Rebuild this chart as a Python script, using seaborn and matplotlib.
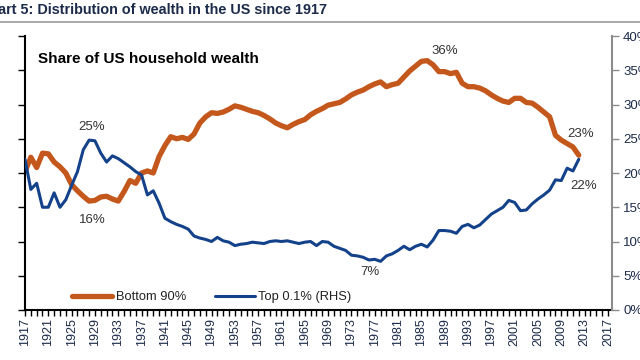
import matplotlib
matplotlib.use("Agg")
import matplotlib.pyplot as plt
from matplotlib.lines import Line2D
from matplotlib.ticker import FixedLocator, MultipleLocator, PercentFormatter
import pandas as pd
import seaborn as sns

# share of US household wealth (1917-2012)
years = list(range(1917, 2013))

bottom_90 = [
    20.2, 22.3, 20.8, 22.9, 22.8, 21.6, 20.9, 20.0, 18.3, 17.4,
    16.6, 15.9, 16.0, 16.5, 16.6, 16.2, 15.9, 17.3, 18.9, 18.5,
    20.0, 20.3, 20.0, 22.4, 24.0, 25.3, 25.0, 25.2, 24.9, 25.7,
    27.3, 28.2, 28.8, 28.7, 28.9, 29.3, 29.8, 29.6, 29.3, 29.0,
    28.8, 28.4, 27.9, 27.3, 26.9, 26.6, 27.1, 27.5, 27.8, 28.5,
    29.0, 29.4, 29.9, 30.1, 30.3, 30.8, 31.4, 31.8, 32.1, 32.6,
    33.0, 33.3, 32.6, 32.9, 33.1, 34.0, 34.9, 35.6, 36.3, 36.4,
    35.8, 34.8, 34.8, 34.5, 34.7, 33.1, 32.6, 32.6, 32.4, 32.0,
    31.4, 30.9, 30.5, 30.3, 30.9, 30.9, 30.3, 30.2, 29.6, 28.9,
    28.2, 25.5, 24.8, 24.3, 23.8, 22.6,
]

top_01 = [
    22.0, 17.6, 18.5, 15.0, 15.0, 17.1, 15.0, 16.1, 18.2, 20.2,
    23.4, 24.8, 24.7, 22.9, 21.6, 22.5, 22.1, 21.5, 20.9, 20.2,
    19.7, 16.8, 17.4, 15.6, 13.4, 12.9, 12.5, 12.2, 11.8, 10.8,
    10.5, 10.3, 10.0, 10.6, 10.1, 9.9, 9.4, 9.6, 9.7, 9.9,
    9.8, 9.7, 10.0, 10.1, 10.0, 10.1, 9.9, 9.7, 9.9, 10.0,
    9.4, 10.0, 9.9, 9.3, 9.0, 8.7, 8.0, 7.9, 7.7, 7.3,
    7.4, 7.1, 7.9, 8.2, 8.7, 9.3, 8.8, 9.3, 9.6, 9.2,
    10.2, 11.6, 11.6, 11.5, 11.2, 12.2, 12.5, 12.0, 12.4, 13.2,
    14.0, 14.5, 15.0, 16.0, 15.7, 14.5, 14.6, 15.5, 16.2, 16.8,
    17.5, 19.0, 18.9, 20.7, 20.3, 22.0,
]

year_ticks = list(range(1917, 2018, 4))
pct_ticks = [0, 5, 10, 15, 20, 25, 30, 35, 40]

# (label, year, value) for the point labels
callouts = [
    ("25%", 1928.5, 26.7),
    ("16%", 1928.5, 13.1),
    ("36%", 1989.0, 37.8),
    ("23%", 2012.3, 25.7),
    ("22%", 2012.9, 18.1),
    ("7%", 1976.2, 5.5),
]

ORANGE = "#C4571B"
BLUE = "#14428A"
NAVY = "#1C2B4A"

df = pd.DataFrame({"year": years, "bottom_90": bottom_90, "top_01": top_01})

sns.set_style("white")
plt.rcParams["font.family"] = ["Liberation Sans", "DejaVu Sans"]

fig = plt.figure(figsize=(6.4, 3.6), dpi=100)
ax = fig.add_axes([25 / 640, 1 - 310 / 360, 587 / 640, 274 / 360])
ax2 = ax.twinx()

sns.lineplot(data=df, x="year", y="bottom_90", ax=ax, color=ORANGE,
             linewidth=3.8, legend=False)
sns.lineplot(data=df, x="year", y="top_01", ax=ax2, color=BLUE,
             linewidth=2.2, legend=False)

for a in (ax, ax2):
    a.set_xlim(1917, 2017.7)
    a.set_ylim(0, 40)
    a.set_xlabel("")
    a.set_ylabel("")
    a.yaxis.set_major_locator(FixedLocator(pct_ticks))
    a.yaxis.set_major_formatter(PercentFormatter(decimals=0))
    a.spines["top"].set_visible(False)

ax.spines["right"].set_visible(False)
ax2.spines["left"].set_visible(False)
ax2.spines["bottom"].set_visible(False)
ax2.spines["right"].set_color("#8C8C8C")
ax2.spines["right"].set_linewidth(1.5)
for side in ("left", "bottom"):
    ax.spines[side].set_color("black")
    ax.spines[side].set_linewidth(1.5)

ax.xaxis.set_major_locator(FixedLocator(year_ticks))
ax.xaxis.set_minor_locator(MultipleLocator(1))
ax.tick_params(axis="x", which="both", direction="out", length=4, width=1,
               color="black", bottom=True, labelsize=9, labelcolor=NAVY,
               labelrotation=90, pad=2)
ax.tick_params(axis="y", direction="out", length=5, width=1, color="black",
               left=True, labelsize=9.5, labelcolor=NAVY, pad=15)
ax2.tick_params(axis="y", direction="out", length=5, width=1,
                color="#8C8C8C", right=True, labelsize=9.5,
                labelcolor=NAVY, pad=3)

for text, x, y in callouts:
    ax.text(x, y, text, ha="center", va="center", fontsize=9.5, color="#333333")

ax.text(0.022, 0.915, "Share of US household wealth", transform=ax.transAxes,
        fontsize=11, fontweight="bold", color="black", ha="left",
        va="center")

handles = [
    Line2D([], [], color=ORANGE, linewidth=3.8),
    Line2D([], [], color=BLUE, linewidth=2.2),
]
ax2.legend(handles, ["Bottom 90%", "Top 0.1% (RHS)"], loc="center left",
           bbox_to_anchor=(0.08, 0.047), ncol=2, frameon=False,
           fontsize=9.3, handlelength=3.1, handletextpad=0.3,
           columnspacing=2.2, borderpad=0, borderaxespad=0,
           labelcolor="#222222")

fig.text(-0.033, 0.972, "Chart 5: Distribution of wealth in the US since 1917",
         ha="left", va="center", fontsize=10.4, fontweight="bold", color=NAVY)
fig.add_artist(Line2D([0, 1], [1 - 22 / 360, 1 - 22 / 360], color="#9A9A9A",
                      linewidth=1.2, transform=fig.transFigure))

fig.savefig("out.png", dpi=100)
